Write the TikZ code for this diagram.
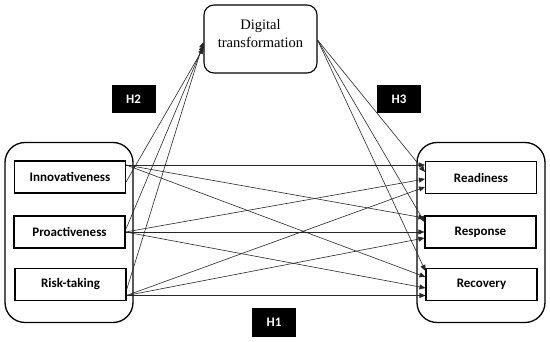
\documentclass[tikz,border=0pt]{standalone}
\usepackage{fontspec}
\setmainfont{Liberation Serif}
\newfontfamily\calibri{Carlito}
\usetikzlibrary{arrows.meta}
\begin{document}
\begin{tikzpicture}[x=1pt,y=-1pt,
  outerbox/.style={draw, line width=1.3pt, rounded corners=20pt, minimum width=128pt, minimum height=180pt, inner sep=0pt},
  varbox/.style={draw, line width=1.1pt, minimum width=111pt, minimum height=32pt, inner sep=0pt, font=\calibri\bfseries\fontsize{13}{15}\selectfont},
  hbox/.style={fill=black, text=white, minimum width=44pt, minimum height=28pt, inner sep=0pt, font=\calibri\bfseries\fontsize{13}{15}\selectfont},
  dtbox/.style={draw, line width=1.1pt, rounded corners=10pt, minimum width=113pt, minimum height=68pt, inner sep=0pt},
  link/.style={line width=0.6pt, draw=black!85, -{Triangle[length=6pt,width=5pt]}},
]
\useasboundingbox (0,0) rectangle (550,342);

% containers
\node[outerbox] (lft) at (69,232.5) {};
\node[outerbox] (rgt) at (481,232.5) {};

% variables
\node[varbox] (inno) at (70,177) {Innovativeness};
\node[varbox] (pro) at (69.5,232) {Proactiveness};
\node[varbox] (risk) at (70.5,284.5) {Risk-taking};

\node[varbox] (rd) at (481,177.5) {Readiness};
\node[varbox] (rs) at (480.5,232) {Response};
\node[varbox] (rc) at (481.5,284.5) {Recovery};

% digital transformation
\node[dtbox] (dt) at (260.5,39) {};
\node[font=\fontsize{14.5}{18}\selectfont, align=center] (dttext) at (260.5,34) {Digital\\transformation};

% hypothesis labels
\node[hbox] (h2) at (133.5,99) {H2};
\node[hbox] (h3) at (399,99) {H3};
\node[hbox, minimum height=29pt] (h1) at (274,322.5) {H1};

% H1: direct links
\draw[link] ([yshift=12pt]inno.east) -- ([yshift=12.5pt]rd.west);
\draw[link] ([yshift=12pt]inno.east) -- ([yshift=14pt]rs.west);
\draw[link] ([yshift=12pt]inno.east) -- ([yshift=7.5pt]rc.west);

\draw[link] (pro.east) -- ([yshift=-1.5pt]rd.west);
\draw[link] (pro.east) -- (rs.west);
\draw[link] (pro.east) -- ([yshift=-3.5pt]rc.west);

\draw[link] ([yshift=-11pt]risk.east) -- ([yshift=-9.5pt]rd.west);
\draw[link] ([yshift=-11pt]risk.east) -- ([yshift=-6pt]rs.west);
\draw[link] ([yshift=-11pt]risk.east) -- ([yshift=-11pt]rc.west);

% H2: to digital transformation
\draw[link] ([yshift=-5pt]inno.east) -- ([yshift=-9pt]dt.west);
\draw[link] ([yshift=2pt]pro.east) -- ([yshift=-6pt]dt.west);
\draw[link] ([yshift=-5.5pt]risk.east) -- ([yshift=-3pt]dt.west);

% H3: from digital transformation
\draw[link] ([yshift=-1pt]dt.east) -- ([yshift=5.5pt]rd.west);
\draw[link] ([yshift=-1pt]dt.east) -- ([yshift=10pt]rs.west);
\draw[link] ([yshift=-1pt]dt.east) -- ([yshift=13.5pt]rc.west);
\end{tikzpicture}
\end{document}
